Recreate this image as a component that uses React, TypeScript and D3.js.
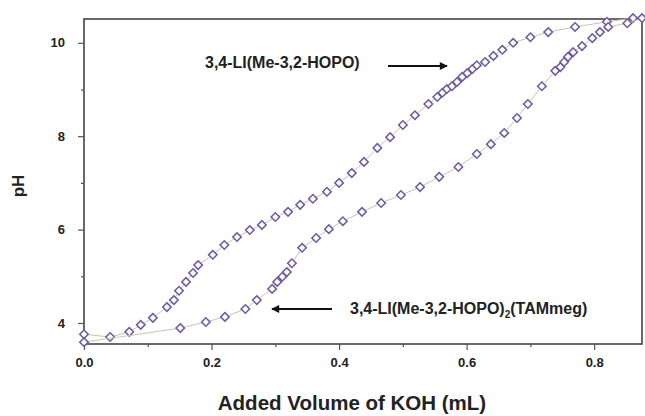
import * as d3 from "d3";
import { useEffect, useRef } from "react";

// 3,4-LI(Me-3,2-HOPO) titration
const ligandVol = [
    0, 0.041, 0.071, 0.089, 0.108, 0.13, 0.141, 0.149, 0.16, 0.171, 0.179, 0.202, 0.22, 0.24,
    0.26, 0.279, 0.3, 0.32, 0.339, 0.359, 0.381, 0.4, 0.42, 0.439, 0.46, 0.48, 0.5, 0.519,
    0.54, 0.554, 0.562, 0.569, 0.577, 0.585, 0.593, 0.601, 0.609, 0.616, 0.629, 0.642, 0.656,
    0.673, 0.7, 0.728, 0.77, 0.82, 0.861,
];
const ligandPH = [
    3.76, 3.7, 3.81, 3.96, 4.11, 4.34, 4.49, 4.69, 4.88, 5.07, 5.24, 5.46, 5.67, 5.84, 5.99,
    6.1, 6.27, 6.38, 6.53, 6.66, 6.81, 7.0, 7.21, 7.45, 7.75, 7.98, 8.24, 8.45, 8.69, 8.84,
    8.93, 9.01, 9.07, 9.16, 9.27, 9.35, 9.44, 9.52, 9.59, 9.72, 9.85, 10.0, 10.12, 10.23,
    10.34, 10.45, 10.53,
];

// 3,4-LI(Me-3,2-HOPO)2(TAMmeg) titration
const mixVol = [
    0, 0.151, 0.191, 0.221, 0.253, 0.271, 0.295, 0.303, 0.311, 0.318, 0.326, 0.342, 0.364,
    0.384, 0.406, 0.436, 0.466, 0.497, 0.527, 0.557, 0.587, 0.616, 0.638, 0.659, 0.679, 0.696,
    0.718, 0.739, 0.747, 0.753, 0.759, 0.767, 0.781, 0.797, 0.809, 0.822, 0.852, 0.875,
];
const mixPH = [
    3.59, 3.89, 4.02, 4.13, 4.3, 4.49, 4.73, 4.88, 4.99, 5.09, 5.28, 5.61, 5.82, 6.01, 6.18,
    6.38, 6.57, 6.74, 6.91, 7.13, 7.34, 7.62, 7.83, 8.07, 8.39, 8.69, 9.07, 9.4, 9.48, 9.59,
    9.7, 9.8, 9.93, 10.1, 10.23, 10.34, 10.42, 10.53,
];

const xMajor = [0, 0.2, 0.4, 0.6, 0.8];
const xMinor = [0.1, 0.3, 0.5, 0.7];
const yMajor = [4, 6, 8, 10];
const yMinor = [5, 7, 9];

export default function App() {
    const svgRef = useRef<SVGSVGElement | null>(null);

    useEffect(() => {
        if (!svgRef.current) return;
        const svg = d3.select(svgRef.current);
        svg.selectAll("*").remove();

        const left = 84, right = 642, top = 19, bottom = 344;
        const ink = "#222";
        const font = "'Liberation Sans', Arial, sans-serif";

        const x = d3.scaleLinear().domain([0, 0.875]).range([left, right]);
        const y = d3.scaleLinear().domain([3.55, 10.51]).range([bottom, top]);

        // frame
        svg.append("rect")
            .attr("x", left)
            .attr("y", top)
            .attr("width", right - left)
            .attr("height", bottom - top)
            .attr("fill", "none")
            .attr("stroke", "#444")
            .attr("stroke-width", 1.6);

        // x axis
        const gx = svg.append("g").attr("transform", `translate(0,${bottom})`);
        gx.call(
            d3.axisBottom(x).tickValues(xMajor).tickSize(6).tickPadding(8)
                .tickFormat((d) => d3.format(".1f")(d as number))
        );
        gx.append("g").call(d3.axisBottom(x).tickValues(xMinor).tickSize(3).tickFormat(() => ""));

        // y axis
        const gy = svg.append("g").attr("transform", `translate(${left},0)`);
        gy.call(
            d3.axisLeft(y).tickValues(yMajor).tickSize(6).tickPadding(13)
                .tickFormat((d) => d3.format("d")(d as number))
        );
        gy.append("g").call(d3.axisLeft(y).tickValues(yMinor).tickSize(3).tickFormat(() => ""));

        svg.selectAll(".domain").remove();
        svg.selectAll(".tick line").attr("stroke", "#555").attr("stroke-width", 1.2);
        svg.selectAll(".tick text")
            .attr("fill", ink)
            .attr("font-family", font)
            .attr("font-weight", "bold")
            .attr("font-size", 13);

        // series
        const series = [
            { vol: ligandVol, ph: ligandPH },
            { vol: mixVol, ph: mixPH },
        ];
        const diamond = d3.symbol(d3.symbolSquare, 36);

        series.forEach((s) => {
            const pts = s.vol.map((v, i) => [x(v), y(s.ph[i])] as [number, number]);
            svg.append("path")
                .attr("d", d3.line()(pts))
                .attr("fill", "none")
                .attr("stroke", "#c9c4ae")
                .attr("stroke-width", 1);
            svg.append("g")
                .selectAll("path")
                .data(pts)
                .join("path")
                .attr("d", diamond)
                .attr("transform", (p) => `translate(${p[0]},${p[1]}) rotate(45)`)
                .attr("fill", "#fffdf0")
                .attr("stroke", "#6a5aa8")
                .attr("stroke-width", 1.5);
        });

        // axis titles
        svg.append("text")
            .attr("x", 352)
            .attr("y", 410)
            .attr("text-anchor", "middle")
            .attr("font-family", font)
            .attr("font-weight", "bold")
            .attr("font-size", 20.5)
            .attr("fill", ink)
            .text("Added Volume of KOH (mL)");

        svg.append("text")
            .attr("transform", "translate(24,186) rotate(-90)")
            .attr("text-anchor", "middle")
            .attr("font-family", font)
            .attr("font-weight", "bold")
            .attr("font-size", 17)
            .attr("fill", ink)
            .text("pH");

        // annotations
        const defs = svg.append("defs");
        defs.append("marker")
            .attr("id", "head")
            .attr("viewBox", "0 0 10 10")
            .attr("refX", 9)
            .attr("refY", 5)
            .attr("markerWidth", 5)
            .attr("markerHeight", 4)
            .attr("markerUnits", "strokeWidth")
            .attr("orient", "auto")
            .append("path")
            .attr("d", "M0,0L10,5L0,10Z")
            .attr("fill", "#111");

        svg.append("text")
            .attr("x", 205)
            .attr("y", 68)
            .attr("font-family", font)
            .attr("font-weight", "bold")
            .attr("font-size", 16)
            .attr("fill", ink)
            .text("3,4-LI(Me-3,2-HOPO)");

        svg.append("line")
            .attr("x1", 388).attr("y1", 66)
            .attr("x2", 447).attr("y2", 66)
            .attr("stroke", "#111")
            .attr("stroke-width", 2)
            .attr("marker-end", "url(#head)");

        const t2 = svg.append("text")
            .attr("x", 350)
            .attr("y", 314)
            .attr("font-family", font)
            .attr("font-weight", "bold")
            .attr("font-size", 16)
            .attr("fill", ink);
        t2.append("tspan").text("3,4-LI(Me-3,2-HOPO)");
        t2.append("tspan").attr("font-size", 10).attr("dy", 4).text("2");
        t2.append("tspan").attr("dy", -4).text("(TAMmeg)");

        svg.append("line")
            .attr("x1", 332).attr("y1", 309)
            .attr("x2", 272).attr("y2", 309)
            .attr("stroke", "#111")
            .attr("stroke-width", 2)
            .attr("marker-end", "url(#head)");
    }, []);

    return (
        <svg
            ref={svgRef}
            width={645}
            height={416}
            style={{ position: "absolute", left: 0, top: 0, background: "#fff" }}
        />
    );
}
